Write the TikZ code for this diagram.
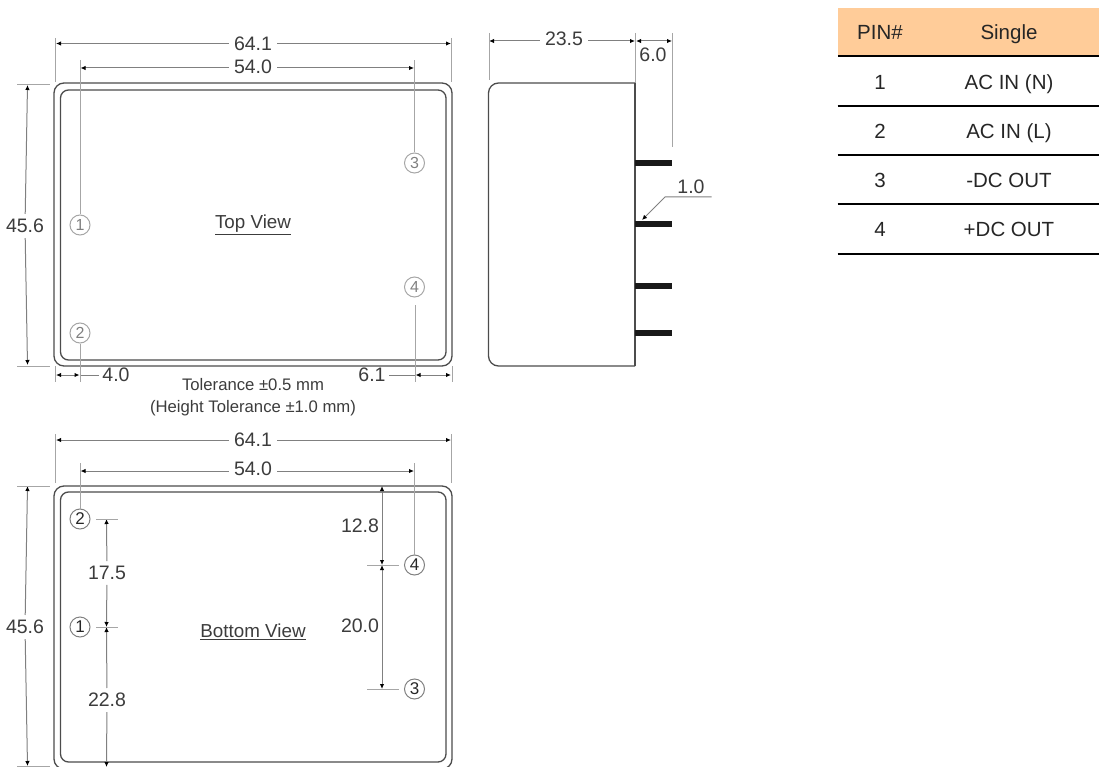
\documentclass[tikz,border=0pt]{standalone}
\usepackage{fontspec}
\setmainfont{Liberation Sans}
\usetikzlibrary{arrows.meta}
\definecolor{hdrfill}{HTML}{FFCC99}
\definecolor{inkc}{HTML}{3C3C3C}
\tikzset{
    dim/.style={draw=black!50, line width=1pt},
    dimarr/.style={dim, {Latex[length=5pt,width=4.5pt,black]}-{Latex[length=5pt,width=4.5pt,black]}},
    dimend/.style={dim, -{Latex[length=5pt,width=4.5pt,black]}},
    ext/.style={draw=black!35, line width=1pt},
    val/.style={text=inkc, font=\fontsize{19.5}{22}\selectfont, inner sep=5pt, text depth=0pt},
    case/.style={draw=black!70, line width=1.3pt, rounded corners=10pt, inner sep=0pt, minimum width=398pt, minimum height=283pt},
    caseinner/.style={draw=black!70, line width=1.3pt, rounded corners=8pt, inner sep=0pt, minimum width=385.5pt, minimum height=270pt},
    pinlight/.style={circle, draw=black!35, text=black!50, line width=1pt, inner sep=0pt, minimum size=20pt, font=\fontsize{16}{18}\selectfont},
    pindark/.style={circle, draw=black!50, text=black!85, line width=1pt, inner sep=0pt, minimum size=20pt, font=\fontsize{17}{18}\selectfont},
    title/.style={text=inkc, font=\fontsize{18.8}{22}\selectfont, inner sep=0pt},
    note/.style={text=inkc, font=\fontsize{16.7}{20}\selectfont, inner sep=0pt, text depth=0pt},
    cell/.style={text=black!85, font=\fontsize{20.5}{24}\selectfont, inner sep=0pt, text height=15pt, text depth=0pt},
    rule/.style={draw=black, line width=2pt},
    lead/.style={draw=black!90, line width=6pt}
}

\begin{document}
\begin{tikzpicture}[x=1pt,y=-1pt]
    \useasboundingbox (0,0) rectangle (1099,767);
    \clip (0,0) rectangle (1099,767);

    % top view
    \node[case] (topcase) at (253,224.5) {};
    \node[caseinner] (topinner) at (253.25,225) {};
    \node[title] (toptitle) at (253,225) {\underline{Top View}};
    \node[pinlight] (t1) at (80,225) {1};
    \node[pinlight] (t2) at (80,333) {2};
    \node[pinlight] (t3) at (414.5,163) {3};
    \node[pinlight] (t4) at (414.5,287) {4};
    \node[val] (topw) at (253,43.5) {64.1};
    \node[val] (toppitch) at (253,66.5) {54.0};
    \node[val] (toph) at (25,226) {45.6};
    \node[val, inner sep=3pt] (topa) at (116,375) {4.0};
    \node[val, inner sep=3pt] (topb) at (372,375) {6.1};
    \node[note] (tol) at (253,384) {Tolerance ±0.5 mm};
    \node[note] (tolh) at (253,406) {(Height Tolerance ±1.0 mm)};

    % bottom view
    \node[case] (botcase) at (253,627.5) {};
    \node[caseinner] (botinner) at (253.25,627) {};
    \node[title] (bottitle) at (253,631.5) {\underline{Bottom View}};
    \node[pindark] (b1) at (80,627) {1};
    \node[pindark] (b2) at (80,519) {2};
    \node[pindark] (b3) at (414.5,689) {3};
    \node[pindark] (b4) at (414.5,565) {4};
    \node[val] (botw) at (253,440) {64.1};
    \node[val] (botpitch) at (253,469) {54.0};
    \node[val] (both) at (25,627) {45.6};
    \node[val] (botc) at (107,573) {17.5};
    \node[val] (botd) at (107,700) {22.8};
    \node[val, inner sep=0pt] (bote) at (360,525.5) {12.8};
    \node[val, inner sep=0pt] (botf) at (360,626) {20.0};

    % side view
    \node[val] (sidew) at (564,39) {23.5};
    \node[val, inner sep=0pt] (sidep) at (653,55) {6.0};
    \node[val, inner sep=0pt] (sidet) at (691,187) {1.0};

    % table
    \node[fill=hdrfill, inner sep=0pt, minimum width=261pt, minimum height=48pt] (hdr) at (968.5,32) {};
    \node[cell] (c0) at (880,32) {PIN\#};
    \node[cell] (s0) at (1009,32) {Single};
    \node[cell] (c1) at (880,82) {1};
    \node[cell] (s1) at (1009,82) {AC IN (N)};
    \node[cell] (c2) at (880,131) {2};
    \node[cell] (s2) at (1009,131) {AC IN (L)};
    \node[cell] (c3) at (880,180) {3};
    \node[cell] (s3) at (1009,180) {-DC OUT};
    \node[cell] (c4) at (880,229) {4};
    \node[cell] (s4) at (1009,229) {+DC OUT};

    % free ends
    \coordinate (tw1) at (56,43.5);
    \coordinate (tw2) at (451,43.5);
    \coordinate (tp1) at (80.5,68);
    \coordinate (tp2) at (414,68);
    \coordinate (th1) at (27.5,85);
    \coordinate (th2) at (27.5,365);
    \coordinate (ta1) at (56,375);
    \coordinate (ta2) at (79.5,375);
    \coordinate (tb1) at (415.5,375);
    \coordinate (tb2) at (451,375);
    \coordinate (bw1) at (56,440);
    \coordinate (bw2) at (451,440);
    \coordinate (bp1) at (80.5,471);
    \coordinate (bp2) at (414,471);
    \coordinate (bh1) at (27.5,486);
    \coordinate (bh2) at (27.5,766);
    \coordinate (bc1) at (106.5,519);
    \coordinate (bc2) at (106.5,627);
    \coordinate (bc3) at (106.5,767);
    \coordinate (be1) at (382,486);
    \coordinate (be2) at (382,565);
    \coordinate (be3) at (382,689);
    \coordinate (sw1) at (489,41);
    \coordinate (sw2) at (635,41);
    \coordinate (sp1) at (636,41);
    \coordinate (sp2) at (672,41);
    \coordinate (la) at (711.5,197);
    \coordinate (lb) at (665,197);
    \coordinate (lc) at (642,220);

    % connect the nodes
    \draw[dimend] (topw) -- (tw1);
    \draw[dimend] (topw) -- (tw2);
    \draw[dimend] (toppitch.west |- tp1) -- (tp1);
    \draw[dimend] (toppitch.east |- tp2) -- (tp2);
    \draw[dimend] (toph) -- (th1);
    \draw[dimend] (toph) -- (th2);
    \draw[dimarr] (ta1) -- (ta2);
    \draw[dim] (ta2) -- (topa);
    \draw[dimarr] (tb1) -- (tb2);
    \draw[dim] (tb1) -- (topb);
    \draw[dimend] (botw) -- (bw1);
    \draw[dimend] (botw) -- (bw2);
    \draw[dimend] (botpitch.west |- bp1) -- (bp1);
    \draw[dimend] (botpitch.east |- bp2) -- (bp2);
    \draw[dimend] (both) -- (bh1);
    \draw[dimend] (both) -- (bh2);
    \draw[dimend] (botc) -- (bc1);
    \draw[dimend] (botc) -- (bc2);
    \draw[dimend] (botd) -- (bc2);
    \draw[dimend] (botd) -- (bc3);
    \draw[dimarr] (be1) -- (be2);
    \draw[dimarr] (be2) -- (be3);
    \draw[dimend] (sidew.west |- sw1) -- (sw1);
    \draw[dimend] (sidew.east |- sw2) -- (sw2);
    \draw[dimarr] (sp1) -- (sp2);
    \draw[dimend] (la) -- (lb) -- (lc);

    % extension lines
    \draw[ext] (55.5,38) -- (55.5,82);
    \draw[ext] (451.5,38) -- (451.5,82);
    \draw[ext] (80,60) -- (t1);
    \draw[ext] (t3) -- (414.5,60);
    \draw[ext] (17,85) -- (50,85);
    \draw[ext] (17,366) -- (50,366);
    \draw[ext] (55,366) -- (55,382);
    \draw[ext] (t2) -- (80,382);
    \draw[ext] (415,305) -- (415,382);
    \draw[ext] (452,366) -- (452,382);
    \draw[ext] (55.5,434) -- (55.5,483);
    \draw[ext] (451.5,434) -- (451.5,483);
    \draw[ext] (b2) -- (80,463);
    \draw[ext] (b4) -- (414.5,463);
    \draw[ext] (17,486) -- (50,486);
    \draw[ext] (17,766) -- (50,766);
    \draw[ext] (96,519) -- (118,519);
    \draw[ext] (96,627) -- (118,627);
    \draw[ext] (367,565) -- (399,565);
    \draw[ext] (367,689) -- (399,689);
    \draw[ext] (489,33) -- (489,80);
    \draw[ext] (635,33) -- (635,83);
    \draw[ext] (672,33) -- (672,147);

    % side body and pins
    \draw[draw=black!70, line width=1.3pt, rounded corners=10pt] (635,83) -- (488.5,83) -- (488.5,366) -- (635,366);
    \draw[draw=black!70, line width=1.3pt] (635,83) -- (635,366);
    \draw[lead] (635,162.7) -- (672,162.7);
    \draw[lead] (635,224.3) -- (672,224.3);
    \draw[lead] (635,286.3) -- (672,286.3);
    \draw[lead] (635,333) -- (672,333);

    % table rules
    \draw[rule] (hdr.south west) -- (hdr.south east);
    \draw[rule] (837.5,106) -- (1099,106);
    \draw[rule] (837.5,155.5) -- (1099,155.5);
    \draw[rule] (837.5,204.5) -- (1099,204.5);
    \draw[rule] (837.5,254) -- (1099,254);
\end{tikzpicture}
\end{document}
